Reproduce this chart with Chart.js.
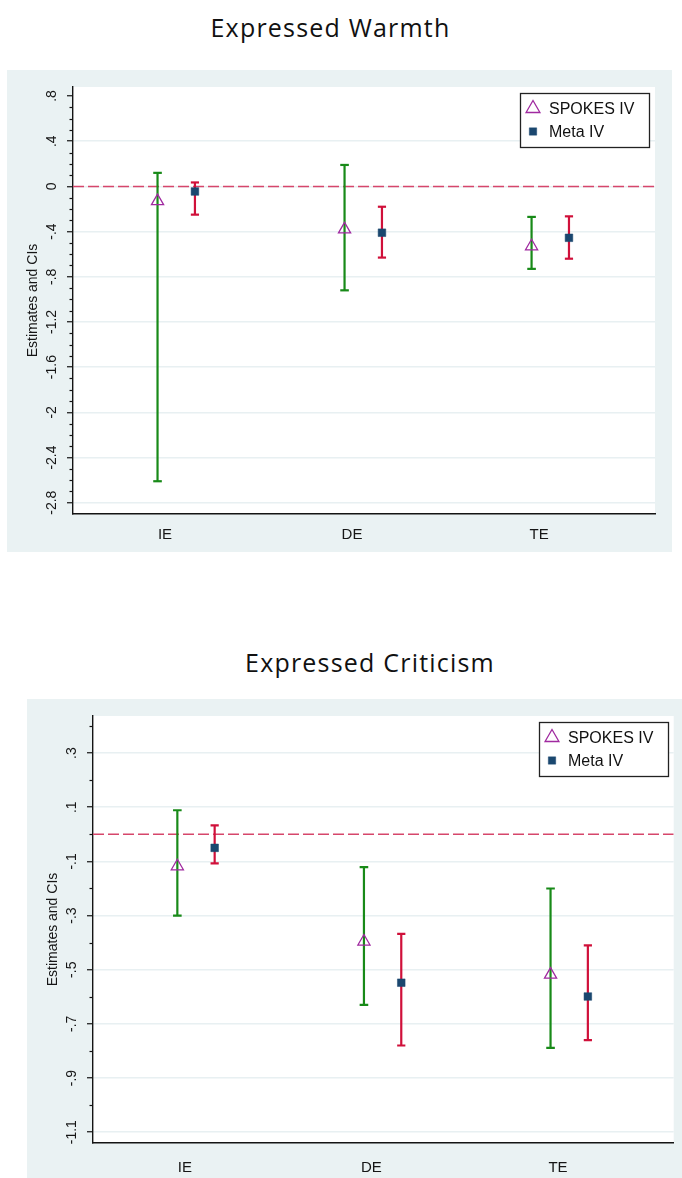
<!DOCTYPE html>
<html><head><meta charset="utf-8">
<script src="https://cdn.jsdelivr.net/npm/chart.js@4.4.1/dist/chart.umd.min.js"></script>
<style>
body{margin:0;background:#fff;width:682px;height:1178px;position:relative;overflow:hidden;}
.title{position:absolute;font-family:"Open Sans",sans-serif;font-size:25px;line-height:34px;color:#111;white-space:nowrap;text-align:center;letter-spacing:1.2px;}
.panel{position:absolute;background:#eaf2f3;}
canvas{display:block;}
</style></head><body>
<div class="title" style="left:0;width:661px;top:10px;">Expressed Warmth</div>
<div class="panel" style="left:7px;top:70px;width:665px;height:482px;"><canvas id="c1" width="665" height="482"></canvas></div>
<div class="title" style="left:0;width:740px;top:645px;">Expressed Criticism</div>
<div class="panel" style="left:27px;top:699px;width:655px;height:479px;"><canvas id="c2" width="655" height="479"></canvas></div>
<script>
// ---- data ----
const categories = ['IE', 'DE', 'TE'];
const seriesNames = ['SPOKES IV', 'Meta IV'];
const yTitle = 'Estimates and CIs';

// Expressed Warmth
const warmthSpokesEst = [-0.13, -0.38, -0.53];
const warmthSpokesLo  = [-2.61, -0.92, -0.73];
const warmthSpokesHi  = [0.12, 0.19, -0.27];
const warmthMetaEst   = [-0.045, -0.41, -0.455];
const warmthMetaLo    = [-0.25, -0.63, -0.64];
const warmthMetaHi    = [0.035, -0.18, -0.265];
const warmthTicks     = [0.8, 0.4, 0, -0.4, -0.8, -1.2, -1.6, -2, -2.4, -2.8];

// Expressed Criticism
const critSpokesEst = [-0.118, -0.396, -0.518];
const critSpokesLo  = [-0.30, -0.63, -0.789];
const critSpokesHi  = [0.089, -0.121, -0.20];
const critMetaEst   = [-0.05, -0.548, -0.599];
const critMetaLo    = [-0.107, -0.78, -0.76];
const critMetaHi    = [0.033, -0.368, -0.41];
const critTicks     = [0.3, 0.1, -0.1, -0.3, -0.5, -0.7, -0.9, -1.1];

// ---- style ----
const GREEN = '#188a18', RED = '#d0103a', PURPLE = '#a02aa0', NAVY = '#1a476f', DASH = '#d6466b';
const GRID = '#e8f0f2', PANEL = '#eaf2f3', AXIS = '#141414';
const X_MIN = 0.508, X_MAX = 3.62, OFF_SPOKES = -0.04, OFF_META = 0.16;

Chart.defaults.font.family = '"Liberation Sans", Arial, sans-serif';
Chart.defaults.color = '#161616';

function fmt(v) {
  if (Math.abs(v) < 1e-9) return '0';
  let s = String(Math.round(Math.abs(v) * 100) / 100);
  if (s.startsWith('0.')) s = s.slice(1);
  return (v < 0 ? '-' : '') + s;
}
function ciData(lo, hi, off) {
  const d = [];
  categories.forEach((c, i) => {
    d.push({x: i + 1 + off, y: lo[i]}, {x: i + 1 + off, y: hi[i]}, {x: i + 1 + off, y: null});
  });
  return d;
}
function ptData(est, off) { return categories.map((c, i) => ({x: i + 1 + off, y: est[i]})); }

const plotBg = {
  id: 'plotBg',
  beforeDraw(chart) {
    const {ctx, chartArea: a} = chart;
    ctx.save(); ctx.fillStyle = '#fff';
    ctx.fillRect(a.left, a.top, a.right - a.left, a.bottom - a.top);
    ctx.restore();
  }
};
const minorTicks = {
  id: 'minorTicks',
  afterDraw(chart, args, opts) {
    const {ctx, chartArea: a} = chart; const ys = chart.scales.y;
    ctx.save(); ctx.strokeStyle = AXIS; ctx.lineWidth = 1.2;
    opts.values.forEach(v => {
      const py = Math.round(ys.getPixelForValue(v)) + 0.5;
      ctx.beginPath(); ctx.moveTo(a.left, py); ctx.lineTo(a.left - 3.5, py); ctx.stroke();
    });
    ctx.restore();
  }
};
const boxLegend = {
  id: 'boxLegend',
  afterDraw(chart) {
    const {ctx, chartArea: a} = chart;
    const w = 129, h = 54, x0 = Math.round(a.right - 6 - w), y0 = Math.round(a.top + 6);
    ctx.save();
    ctx.fillStyle = '#fff'; ctx.fillRect(x0, y0, w, h);
    ctx.strokeStyle = '#222'; ctx.lineWidth = 1.3; ctx.strokeRect(x0 + 0.5, y0 + 0.5, w, h);
    ctx.strokeStyle = PURPLE; ctx.fillStyle = 'rgba(0,0,0,0)';
    ctx.lineWidth = 1.3;
    Chart.helpers.drawPoint(ctx, {pointStyle: 'triangle', radius: 8, rotation: 0, borderWidth: 1.3}, x0 + 13, y0 + 15.5);
    ctx.fillStyle = NAVY; ctx.strokeStyle = NAVY; ctx.lineWidth = 0.5;
    Chart.helpers.drawPoint(ctx, {pointStyle: 'rect', radius: 5.2, rotation: 0, borderWidth: 0.5}, x0 + 13, y0 + 38.5);
    ctx.fillStyle = '#111'; ctx.font = '16px "Liberation Sans", Arial, sans-serif';
    ctx.textBaseline = 'middle'; ctx.textAlign = 'left';
    ctx.fillText(seriesNames[0], x0 + 29, y0 + 17);
    ctx.fillText(seriesNames[1], x0 + 29, y0 + 40);
    ctx.restore();
  }
};

function makeChart(id, cfg) {
  const datasets = [
    {label: seriesNames[0], data: ptData(cfg.sEst, OFF_SPOKES), pointStyle: 'triangle', pointRadius: 7,
     pointBorderWidth: 1.3, pointBorderColor: PURPLE, pointBackgroundColor: 'rgba(0,0,0,0)', showLine: false, order: 0},
    {label: seriesNames[1], data: ptData(cfg.mEst, OFF_META), pointStyle: 'rect', pointRadius: 5.4,
     pointBorderWidth: 0.5, pointBorderColor: NAVY, pointBackgroundColor: NAVY, showLine: false, order: 0},
    {label: seriesNames[0] + ' CI', data: ciData(cfg.sLo, cfg.sHi, OFF_SPOKES), showLine: true, spanGaps: false,
     borderColor: GREEN, borderWidth: 2.2, pointStyle: 'line', pointRadius: 4.3, pointBorderWidth: 2.2,
     pointBorderColor: GREEN, order: 1},
    {label: seriesNames[1] + ' CI', data: ciData(cfg.mLo, cfg.mHi, OFF_META), showLine: true, spanGaps: false,
     borderColor: RED, borderWidth: 2.2, pointStyle: 'line', pointRadius: 4.1, pointBorderWidth: 2.2,
     pointBorderColor: RED, order: 1},
    {label: 'zero', data: [{x: X_MIN, y: 0}, {x: X_MAX, y: 0}], showLine: true, borderColor: DASH,
     borderWidth: 1.5, borderDash: [11, 4], pointRadius: 0, order: 2}
  ];
  return new Chart(document.getElementById(id), {
    type: 'scatter',
    data: {datasets},
    options: {
      responsive: false, animation: false, events: [], devicePixelRatio: 1,
      layout: {padding: {left: 0, top: 17, right: cfg.padRight, bottom: 0}},
      plugins: {legend: {display: false}, tooltip: {enabled: false}, minorTicks: {values: cfg.minors}},
      scales: {
        x: {
          type: 'linear', min: X_MIN, max: X_MAX,
          afterBuildTicks: s => { s.ticks = categories.map((c, i) => ({value: i + 1})); },
          ticks: {callback: v => categories[Math.round(v) - 1], font: {size: 15}, color: '#161616',
                  padding: cfg.xPad, maxRotation: 0, autoSkip: false},
          grid: {display: false},
          border: {display: true, color: AXIS, width: 1.4},
          afterFit: s => { s.height = cfg.xH; }
        },
        y: {
          type: 'linear', min: cfg.yMin, max: cfg.yMax,
          afterBuildTicks: s => { s.ticks = cfg.ticks.map(v => ({value: v})); },
          ticks: {callback: v => fmt(v), minRotation: 90, maxRotation: 90, crossAlign: 'center',
                  padding: 3, font: {size: 14}, color: '#161616'},
          grid: {color: c => (cfg.noGrid.includes(c.tick && c.tick.value) ? 'rgba(0,0,0,0)' : GRID),
                 lineWidth: 1.5, tickColor: AXIS, tickLength: 6, tickWidth: 1.2},
          border: {display: true, color: AXIS, width: 1.4},
          title: {display: true, text: yTitle, font: {size: 14}, color: '#161616', padding: {top: 17.5, bottom: 0}},
          afterFit: s => { s.width = 66; }
        }
      }
    },
    plugins: [plotBg, minorTicks, boxLegend]
  });
}

const warmMinors = [];
for (let k = -28; k <= 8; k++) if (k % 4 !== 0) warmMinors.push(k / 10);
const critMinors = [];
for (let k = -10; k <= 4; k += 2) critMinors.push(k / 10);

makeChart('c1', {sEst: warmthSpokesEst, sLo: warmthSpokesLo, sHi: warmthSpokesHi,
  mEst: warmthMetaEst, mLo: warmthMetaLo, mHi: warmthMetaHi, ticks: warmthTicks,
  yMin: -2.9, yMax: 0.88, minors: warmMinors, noGrid: [0.8], padRight: 17, xH: 38, xPad: 4});
makeChart('c2', {sEst: critSpokesEst, sLo: critSpokesLo, sHi: critSpokesHi,
  mEst: critMetaEst, mLo: critMetaLo, mHi: critMetaHi, ticks: critTicks,
  yMin: -1.14, yMax: 0.437, minors: critMinors, noGrid: [], padRight: 7, xH: 35, xPad: 8});
</script>
</body></html>
